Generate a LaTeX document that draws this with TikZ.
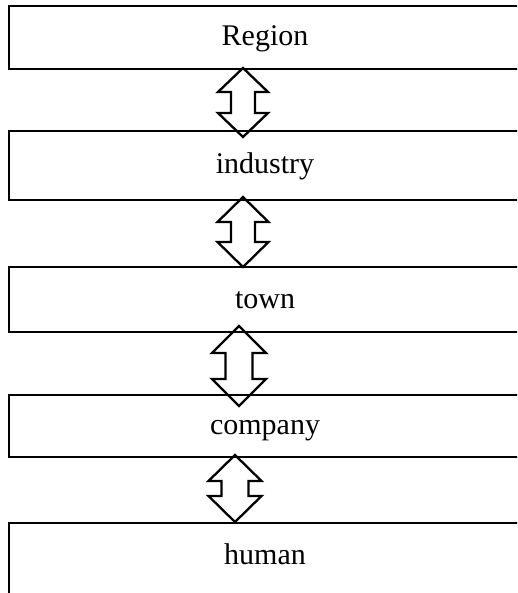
\documentclass[tikz,border=0pt]{standalone}
\usepackage{fontspec}
\setmainfont{Liberation Serif}
\usetikzlibrary{calc}
\tikzset{
  levelbox/.style={draw=black, line width=2.3pt, minimum width=512pt, inner sep=0pt,
    font=\fontsize{30}{36}\selectfont, text height=20pt, text depth=3pt},
  blockarr/.style={draw=black, fill=white, line width=2.3pt, line join=miter},
}
\newcommand{\dblblockarrow}[5]{%
  \draw[blockarr] (#1) -- ++(#3,#5) -- ++({#4-#3},0) -- ($(#2)+(#4,{-#5})$)
    -- ++({#3-#4},0) -- (#2) -- ++({-#3},{-#5}) -- ++({#3-#4},0)
    -- ($(#1)+({-#4},#5)$) -- ++({#4-#3},0) -- cycle;}
\begin{document}
\begin{tikzpicture}[x=1pt, y=-1pt]
  \useasboundingbox (0,0) rectangle (517,593);
  \clip (0,0) rectangle (517,593);
  \fill[white] (0,0) rectangle (517,593);
  % arrow tips
  \coordinate (a1t) at (243,68);  \coordinate (a1b) at (243,137);
  \coordinate (a2t) at (243,197); \coordinate (a2b) at (243,267);
  \coordinate (a3t) at (239,326); \coordinate (a3b) at (239,406);
  \coordinate (a4t) at (235,455); \coordinate (a4b) at (235,522);
  \dblblockarrow{a1t}{a1b}{25}{12}{24}
  \dblblockarrow{a2t}{a2b}{25.5}{12}{25}
  \dblblockarrow{a3t}{a3b}{27}{13.5}{27}
  \dblblockarrow{a4t}{a4b}{26.5}{13.5}{26}
  % boxes
  \node[levelbox, minimum height=63pt] (region) at (265,37.5) {Region};
  \node[levelbox, minimum height=69pt] (industry) at (265,165.5) {industry};
  \node[levelbox, minimum height=65pt] (town) at (265,299.5) {town};
  \node[levelbox, minimum height=62pt] (company) at (265,426) {company};
  \node[levelbox, minimum height=100pt, text depth=38pt] (human) at (265,573) {human};
\end{tikzpicture}
\end{document}
